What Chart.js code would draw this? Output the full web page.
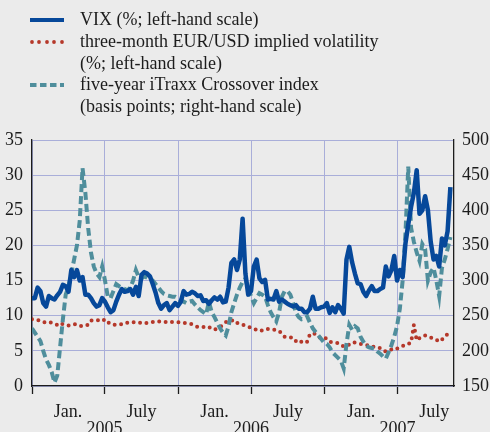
<!DOCTYPE html>
<html lang="en">
<head>
<meta charset="UTF-8">
<title>VIX, EUR/USD implied volatility and iTraxx Crossover</title>
<script src="https://cdn.jsdelivr.net/npm/chart.js@4.4.1/dist/chart.umd.min.js"></script>
<style>
  html, body { margin: 0; padding: 0; background: #ebebeb; }
  #wrap { width: 490px; height: 432px; position: relative; }
</style>
</head>
<body>
<div id="wrap"><canvas id="chart"></canvas></div>
<script>
// weekly observations, week 0 = first week of January 2005
const firstDay = new Date(2005, 0, 1);
const lastDay = new Date(2007, 10, 19);

// VIX (%; left-hand scale)
const vix = [
  12.5, 12.5, 14.0, 13.5, 11.8, 11.3, 12.8, 12.5, 12.3, 12.9,
  13.4, 14.4, 14.2, 13.4, 16.5, 15.5, 16.5, 15.0, 15.5, 13.0,
  13.0, 12.5, 11.8, 11.3, 11.5, 12.5, 12.0, 11.2, 10.5, 10.8,
  12.0, 13.0, 13.8, 13.4, 13.5, 13.8, 13.0, 14.1, 12.8, 15.8,
  16.2, 16.0, 15.6, 14.5, 13.3, 11.8, 11.0, 11.5, 11.8, 10.8,
  11.3, 11.8, 11.4, 12.0, 13.5, 13.0, 13.1, 13.4, 13.2, 12.8,
  12.9, 12.1, 12.2, 11.7, 12.2, 12.6, 12.3, 12.7, 11.9, 12.0,
  14.0, 17.5, 18.0, 16.5, 18.0, 23.8, 16.0, 13.0, 13.5, 17.0,
  18.0, 15.3, 14.8, 15.1, 12.3, 12.4, 12.3, 13.5, 12.0, 12.3,
  12.0, 11.7, 11.5, 11.3, 11.5, 11.0, 11.0, 10.5, 10.5, 11.0,
  12.7, 11.0, 11.0, 11.2, 11.3, 11.8, 10.4, 11.2, 10.5, 11.5,
  11.0, 10.3, 18.0, 19.8, 17.6, 16.0, 14.6, 14.5, 13.4, 12.8,
  13.6, 14.2, 13.5, 13.5, 13.8, 14.0, 17.0, 15.6, 16.5, 18.5,
  15.0, 16.5, 15.5, 20.3, 23.0, 25.5, 27.5, 30.7, 24.5, 25.0,
  27.0, 25.0, 20.5, 18.0, 18.5, 17.0, 21.0, 20.0, 22.0, 28.3
];

// three-month EUR/USD implied volatility (%; left-hand scale)
const eurUsdVol = [
  9.5, 9.5, 9.4, 9.3, 9.1, 9.0, 9.1, 9.0, 8.8, 8.7,
  9.0, 8.8, 8.7, 8.6, 8.7, 8.8, 8.8, 8.6, 8.5, 8.6,
  8.7, 9.3, 9.4, 9.4, 9.3, 9.2, 9.5, 9.1, 8.8, 8.7,
  8.7, 8.7, 8.8, 9.0, 9.0, 9.0, 9.1, 9.0, 9.0, 9.0,
  8.9, 9.0, 9.1, 9.1, 9.1, 9.2, 9.1, 9.1, 9.1, 9.2,
  9.1, 9.1, 9.1, 9.0, 9.0, 8.9, 8.9, 8.8, 8.6, 8.4,
  8.4, 8.4, 8.3, 8.4, 8.1, 8.0, 8.2, 8.4, 8.7, 9.1,
  9.1, 9.3, 9.4, 9.0, 8.8, 8.7, 8.6, 8.4, 8.3, 8.1,
  8.0, 7.8, 7.9, 8.1, 8.1, 8.1, 8.0, 8.0, 7.8, 7.5,
  7.0, 6.9, 6.9, 6.9, 6.4, 6.1, 6.3, 6.5, 6.3, 7.4,
  7.5, 7.4, 7.0, 6.8, 6.9, 6.7, 6.3, 6.2, 6.2, 6.1,
  5.9, 5.6, 5.7, 5.9, 6.2, 6.2, 6.1, 6.0, 5.9, 5.8,
  5.8, 5.7, 5.5, 5.4, 5.4, 5.1, 4.9, 5.1, 5.2, 5.1,
  5.3, 5.5, 5.7, 5.8, 6.0, 6.2, 8.7, 6.5, 6.8, 7.0,
  7.2, 7.0, 6.9, 6.8, 6.6, 6.3, 6.6, 7.0, 7.4, 7.8
];

// five-year iTraxx Crossover index (basis points; right-hand scale)
const itraxx = [
  232, 226, 220, 214, 200, 188, 180, 170, 155, 165,
  205, 245, 280, 292, 310, 330, 350, 385, 460, 425,
  375, 340, 320, 310, 305, 320, 300, 277, 275, 285,
  295, 292, 290, 288, 286, 290, 300, 315, 305, 303,
  306, 304, 302, 300, 295, 290, 285, 281, 279, 278,
  277, 277, 275, 272, 270, 268, 270, 271, 266, 262,
  258, 255, 252, 270, 255, 248, 240, 232, 226, 222,
  235, 255, 268, 280, 290, 298, 303, 288, 278, 268,
  275, 282, 280, 277, 265, 255, 248, 242, 255, 277,
  285, 285, 280, 268, 254, 248, 245, 246, 249, 240,
  232, 227, 222, 217, 212, 210, 205, 198, 194, 190,
  186, 175, 210, 237, 230, 235, 232, 220, 213, 207,
  205, 204, 203, 199, 196, 192, 189, 198, 208, 220,
  235, 260, 300, 367, 462, 375, 355, 340, 328, 352,
  345, 300, 312, 318, 300, 278, 318, 330, 345, 362
];

// x axis: half-year boundaries, labels and years
const halfYears = ['2005-01-01', '2005-07-01', '2006-01-01', '2006-07-01', '2007-01-01', '2007-07-01'];
const halfYearLabels = ['Jan.', 'July', 'Jan.', 'July', 'Jan.', 'July'];
const years = ['2005', '2006', '2007'];

const legendItems = [
  ['VIX (%; left-hand scale)'],
  ['three-month EUR/USD implied volatility', '(%; left-hand scale)'],
  ['five-year iTraxx Crossover index', '(basis points; right-hand scale)']
];

const BLUE = '#06489a';
const RED = '#b5382a';
const TEAL = '#4f8e9c';
const GRID = '#a9aed9';
const INK = '#1c1c1c';
const FONT = '"Liberation Serif", "Times New Roman", serif';
const FSIZE = 18;

const WEEK = 7 * 24 * 3600 * 1000;
function weeks(d) {
  const dt = typeof d === 'string' ? new Date(d + 'T00:00:00') : d;
  return (dt - firstDay) / WEEK;
}
function addMonths(s, n) {
  const d = new Date(s + 'T00:00:00');
  return new Date(d.getFullYear(), d.getMonth() + n, 1);
}
const pts = arr => arr.map((v, i) => ({ x: i, y: v }));

const overlay = {
  id: 'overlay',
  afterDraw(chart) {
    const ctx = chart.ctx;
    const xs = chart.scales.x;
    ctx.save();
    ctx.fillStyle = INK;
    ctx.font = FSIZE + 'px ' + FONT;
    ctx.textBaseline = 'middle';

    // legend
    const rows = [20, 42, 64, 85, 107];
    let r = 0;
    legendItems.forEach((item, k) => {
      const y = rows[r];
      if (k === 0) {
        ctx.strokeStyle = BLUE; ctx.lineWidth = 4; ctx.setLineDash([]);
        ctx.beginPath(); ctx.moveTo(30, y); ctx.lineTo(64, y); ctx.stroke();
      } else if (k === 1) {
        ctx.fillStyle = RED;
        [32, 39, 47, 54, 62].forEach(x => {
          ctx.beginPath(); ctx.arc(x, y, 1.9, 0, Math.PI * 2); ctx.fill();
        });
      } else {
        ctx.strokeStyle = TEAL; ctx.lineWidth = 4; ctx.setLineDash([6.5, 3.5]);
        ctx.beginPath(); ctx.moveTo(30, y); ctx.lineTo(64, y); ctx.stroke();
        ctx.setLineDash([]);
      }
      ctx.fillStyle = INK;
      ctx.textAlign = 'left';
      item.forEach(line => { ctx.fillText(line, 80, rows[r]); r++; });
    });

    // month and year labels
    ctx.textAlign = 'center';
    halfYears.forEach((d, i) => {
      const mid = weeks(addMonths(d, 3));
      ctx.fillText(halfYearLabels[i], xs.getPixelForValue(mid), 412);
    });
    years.forEach(y => {
      const mid = weeks(y + '-07-01');
      ctx.fillText(y, xs.getPixelForValue(mid), 429);
    });
    ctx.restore();
  }
};

new Chart(document.getElementById('chart'), {
  type: 'line',
  data: {
    datasets: [
      {
        label: 'VIX (%; left-hand scale)',
        data: pts(vix),
        yAxisID: 'y',
        borderColor: BLUE,
        borderWidth: 4.5,
        borderJoinStyle: 'round',
        pointRadius: 0,
        tension: 0,
        order: 1
      },
      {
        label: 'three-month EUR/USD implied volatility (%; left-hand scale)',
        data: pts(eurUsdVol),
        yAxisID: 'y',
        borderColor: RED,
        borderWidth: 4,
        borderCapStyle: 'round',
        borderDash: [0, 6.5],
        pointRadius: 0,
        tension: 0,
        order: 3
      },
      {
        label: 'five-year iTraxx Crossover index (basis points; right-hand scale)',
        data: pts(itraxx),
        yAxisID: 'y2',
        borderColor: TEAL,
        borderWidth: 4,
        borderDash: [8, 4],
        pointRadius: 0,
        tension: 0,
        order: 2
      }
    ]
  },
  options: {
    responsive: true,
    maintainAspectRatio: false,
    animation: false,
    layout: { padding: { top: 140, left: 0, right: 0, bottom: 0 } },
    plugins: { legend: { display: false }, tooltip: { enabled: false } },
    scales: {
      x: {
        type: 'linear',
        min: 0,
        max: weeks(lastDay),
        afterBuildTicks: s => { s.ticks = halfYears.map(d => ({ value: weeks(d) })); },
        afterFit: s => { s.height = 46; },
        ticks: { display: false, autoSkip: false },
        grid: { color: GRID, lineWidth: 1, tickColor: INK, tickLength: 8, tickWidth: 1.3 },
        border: { color: INK, width: 1.3 }
      },
      y: {
        position: 'left',
        min: 0,
        max: 35,
        afterFit: s => { s.width = 32; },
        ticks: { stepSize: 5, padding: 9, color: INK, font: { family: FONT, size: FSIZE } },
        grid: { color: GRID, lineWidth: 1, drawTicks: false },
        border: { color: INK, width: 1.3 }
      },
      y2: {
        position: 'right',
        min: 150,
        max: 500,
        afterFit: s => { s.width = 36; },
        ticks: { stepSize: 50, padding: 8, color: INK, font: { family: FONT, size: FSIZE } },
        grid: { display: false, drawTicks: false },
        border: { color: INK, width: 1.3 }
      }
    }
  },
  plugins: [overlay]
});
</script>
</body>
</html>
